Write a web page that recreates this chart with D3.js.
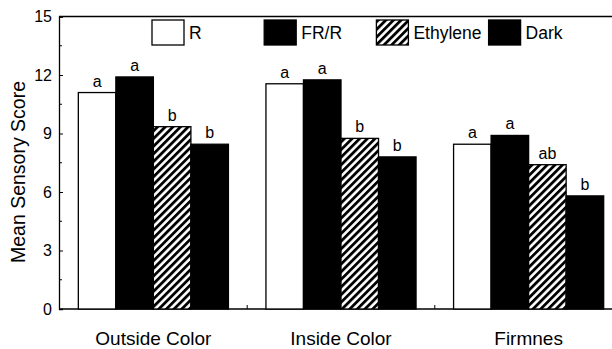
<!DOCTYPE html>
<html>
<head>
  <title>Mean Sensory Score</title>
  <script src="https://d3js.org/d3.v7.min.js"></script>
  <style>
    body { margin: 0; background: #fff; }
    text { font-family: "Liberation Sans", Arial, sans-serif; fill: #000; }
  </style>
</head>
<body>
<div id="chart-container"></div>

<script>
// Chart data
var categories = ["Outside Color", "Inside Color", "Firmnes"];
var series = ["R", "FR/R", "Ethylene", "Dark"];
var valuesR        = [11.1, 11.55, 8.45];
var valuesFRR      = [11.9, 11.75, 8.9];
var valuesEthylene = [9.35, 8.75, 7.4];
var valuesDark     = [8.45, 7.8, 5.8];
var lettersR        = ["a", "a", "a"];
var lettersFRR      = ["a", "a", "a"];
var lettersEthylene = ["b", "b", "ab"];
var lettersDark     = ["b", "b", "b"];
var yTicks = [0, 3, 6, 9, 12, 15];

var seriesValues = [valuesR, valuesFRR, valuesEthylene, valuesDark];
var seriesLetters = [lettersR, lettersFRR, lettersEthylene, lettersDark];
var seriesFill = ["#fff", "#000", "url(#hatch)", "#000"];

// Build rows for drawing
var rows = [];
categories.forEach(function(c, i) {
  series.forEach(function(s, j) {
    rows.push({ category: c, series: s, value: seriesValues[j][i], letter: seriesLetters[j][i], fill: seriesFill[j] });
  });
});

var width = 612;
var height = 349;
var plotLeft = 59, plotTop = 16.5, plotBottom = 309, plotRight = 623;

var svg = d3.select("#chart-container").append("svg")
  .attr("width", width)
  .attr("height", height);

// Hatch pattern for Ethylene
var defs = svg.append("defs");
var pat = defs.append("pattern")
  .attr("id", "hatch")
  .attr("patternUnits", "userSpaceOnUse")
  .attr("width", 5.4)
  .attr("height", 10)
  .attr("patternTransform", "rotate(45)");
pat.append("rect").attr("width", 5.4).attr("height", 10).attr("fill", "#fff");
pat.append("rect").attr("width", 2.8).attr("height", 10).attr("fill", "#000");

// Scales
var x0 = d3.scaleBand()
  .domain(categories)
  .range([plotLeft, plotRight])
  .paddingInner(0.2)
  .paddingOuter(0.103);
var x1 = d3.scaleBand()
  .domain(series)
  .range([0, x0.bandwidth()]);
var y = d3.scaleLinear()
  .domain([0, 15])
  .range([plotBottom, plotTop]);

// Frame: top and bottom lines
svg.append("line")
  .attr("x1", plotLeft).attr("x2", plotRight)
  .attr("y1", y(15)).attr("y2", y(15))
  .attr("stroke", "#000").attr("stroke-width", 1.3);
svg.append("line")
  .attr("x1", plotLeft).attr("x2", plotRight)
  .attr("y1", y(0)).attr("y2", y(0))
  .attr("stroke", "#000").attr("stroke-width", 1.3);

// Bars
svg.selectAll("rect.bar")
  .data(rows)
  .enter()
  .append("rect")
  .attr("class", "bar")
  .attr("x", function(d) { return x0(d.category) + x1(d.series); })
  .attr("y", function(d) { return y(d.value); })
  .attr("width", x1.bandwidth())
  .attr("height", function(d) { return y(0) - y(d.value); })
  .attr("fill", function(d) { return d.fill; })
  .attr("stroke", "#000")
  .attr("stroke-width", 1.3);

// Letters above bars
svg.selectAll("text.letter")
  .data(rows)
  .enter()
  .append("text")
  .attr("class", "letter")
  .attr("x", function(d) { return x0(d.category) + x1(d.series) + x1.bandwidth() / 2; })
  .attr("y", function(d) { return y(d.value) - 6; })
  .attr("text-anchor", "middle")
  .style("font-size", "16px")
  .text(function(d) { return d.letter; });

// Y axis with inward ticks
var yAxis = d3.axisLeft(y).tickValues(yTicks).tickSize(-4).tickPadding(7).tickFormat(d3.format("d"));
var gy = svg.append("g")
  .attr("transform", "translate(" + plotLeft + ",0)")
  .call(yAxis);
gy.select(".domain").attr("stroke-width", 1.3);
gy.selectAll("text").style("font-size", "16px").style("font-family", "Liberation Sans, Arial, sans-serif");

// Minor ticks
var minor = d3.range(1.5, 15, 3);
svg.selectAll("line.minor")
  .data(minor)
  .enter()
  .append("line")
  .attr("class", "minor")
  .attr("x1", plotLeft).attr("x2", plotLeft + 3)
  .attr("y1", function(d) { return y(d); })
  .attr("y2", function(d) { return y(d); })
  .attr("stroke", "#000");

// Small ticks between groups on the bottom axis
var between = categories.slice(1).map(function(c) { return x0(c) - x0.step() * x0.paddingInner() / 2; });
svg.selectAll("line.xtick")
  .data(between)
  .enter()
  .append("line")
  .attr("class", "xtick")
  .attr("x1", function(d) { return d; })
  .attr("x2", function(d) { return d; })
  .attr("y1", y(0)).attr("y2", y(0) - 4)
  .attr("stroke", "#000");

// Category labels
svg.selectAll("text.cat")
  .data(categories)
  .enter()
  .append("text")
  .attr("class", "cat")
  .attr("x", function(d) { return x0(d) + x0.bandwidth() / 2; })
  .attr("y", 345)
  .attr("text-anchor", "middle")
  .style("font-size", "19px")
  .text(function(d) { return d; });

// Y axis title
svg.append("text")
  .attr("transform", "translate(25,172) rotate(-90)")
  .attr("text-anchor", "middle")
  .style("font-size", "19.5px")
  .text("Mean Sensory Score");

// Legend
var legend = svg.selectAll("g.legend")
  .data(series)
  .enter()
  .append("g")
  .attr("class", "legend")
  .attr("transform", function(d, i) { return "translate(" + (152 + i * 112.2) + ",20)"; });
legend.append("rect")
  .attr("width", 32)
  .attr("height", 25)
  .attr("fill", function(d, i) { return seriesFill[i]; })
  .attr("stroke", "#000")
  .attr("stroke-width", 1.3);
legend.append("text")
  .attr("x", 37)
  .attr("y", 19)
  .style("font-size", "17.5px")
  .text(function(d) { return d; });
</script>
</body>
</html>
